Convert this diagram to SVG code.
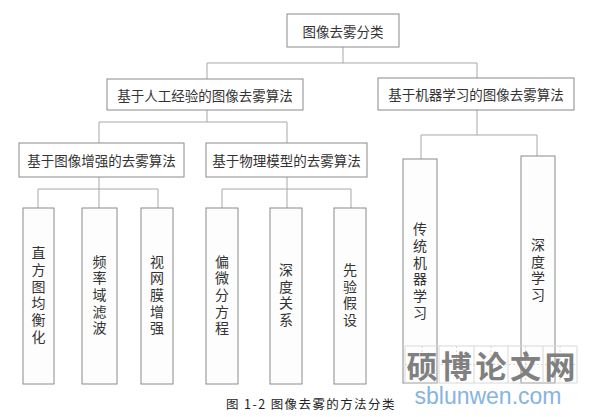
<svg xmlns="http://www.w3.org/2000/svg" width="594" height="417" viewBox="0 0 594 417">
<style>
.box{fill:#ffffff;stroke:#8a8a8a;stroke-width:1}
.leaf{fill:#fdfdfd;stroke:#8a8a8a;stroke-width:1}
.ln{fill:none;stroke:#a8a8a8;stroke-width:1}
.t{font-family:"Noto Sans CJK SC","Noto Sans",sans-serif;font-size:13.5px;fill:#333;text-anchor:middle;dominant-baseline:central}
.v{font-family:"Noto Sans CJK SC","Noto Sans",sans-serif;font-size:14px;fill:#333;text-anchor:middle;writing-mode:vertical-rl;letter-spacing:2.7px}
.cap{font-family:"Noto Sans CJK SC","Liberation Serif",sans-serif;font-size:12.5px;font-weight:normal;fill:#222;letter-spacing:1.4px}
.wm{font-family:"Noto Sans CJK SC",sans-serif;font-size:31px;font-weight:bold;fill:#808080;text-anchor:middle;dominant-baseline:central}
.wg{fill:none;stroke:#d8d8d8;stroke-width:1}
</style>
<rect width="594" height="417" fill="#ffffff"/>
<g id="connectors">
<path class="ln" d="M343,47V63M207,63H477M207,63V79M477,63V78"/>
<path class="ln" d="M207,110V122M99,122H287M99,122V143M287,122V143"/>
<path class="ln" d="M477,110V135M421,135H537M421,135V159M537,135V156"/>
<path class="ln" d="M99,177V189M38,189H158M38,189V208M99,189V208M158,189V208"/>
<path class="ln" d="M287,177V189M222,189H351M222,189V208M287,189V208M351,189V208"/>
</g>
<g id="root"><rect class="box" x="287" y="14" width="112" height="33"/><text class="t" x="343" y="30.5" font-size="14">图像去雾分类</text></g>
<g id="manual"><rect class="box" x="107" y="79" width="196" height="31"/><text class="t" x="205" y="94.5">基于人工经验的图像去雾算法</text></g>
<g id="ml"><rect class="box" x="378" y="78" width="196" height="32"/><text class="t" x="476" y="94">基于机器学习的图像去雾算法</text></g>
<g id="enhance"><rect class="box" x="19" y="143" width="165" height="34"/><text class="t" x="101.5" y="160">基于图像增强的去雾算法</text></g>
<g id="physics"><rect class="box" x="206" y="143" width="161" height="34"/><text class="t" x="286.5" y="160">基于物理模型的去雾算法</text></g>
<g id="leaf1"><rect class="leaf" x="23" y="208" width="31" height="176"/><text class="v" x="38.5" y="296">直方图均衡化</text></g>
<g id="leaf2"><rect class="leaf" x="82" y="208" width="35" height="176"/><text class="v" x="99.5" y="296">频率域滤波</text></g>
<g id="leaf3"><rect class="leaf" x="141" y="208" width="32" height="176"/><text class="v" x="157" y="296">视网膜增强</text></g>
<g id="leaf4"><rect class="leaf" x="206" y="208" width="32" height="176"/><text class="v" x="222" y="296">偏微分方程</text></g>
<g id="leaf5"><rect class="leaf" x="270" y="208" width="32" height="176"/><text class="v" x="286" y="296">深度关系</text></g>
<g id="leaf6"><rect class="leaf" x="334" y="208" width="32" height="176"/><text class="v" x="350" y="296">先验假设</text></g>
<g id="leaf7"><rect class="leaf" x="403" y="159" width="34" height="224"/><text class="v" x="420" y="272">传统机器学习</text></g>
<g id="leaf8"><rect class="leaf" x="521" y="156" width="34" height="227"/><text class="v" x="538" y="271" letter-spacing="2px">深度学习</text></g>
<g id="caption"><text class="cap" x="226" y="409">图 1-2  图像去雾的方法分类</text></g>
<g id="watermark">
<path class="wg" d="M405,346H577V383H405ZM439,346V383M474,346V383M508,346V383M543,346V383"/>
<path class="wg" stroke-dasharray="2,2" d="M405,364.5H577M422,346V383M456.5,346V383M491,346V383M525.5,346V383M560,346V383"/>
<text class="wm" x="422" y="364">硕</text>
<text class="wm" x="456.5" y="364">博</text>
<text class="wm" x="491" y="364">论</text>
<text class="wm" x="525.5" y="364">文</text>
<text class="wm" x="560" y="364">网</text>
<text x="488" y="404" font-family="Liberation Sans,sans-serif" font-size="23" fill="#86b4e2" text-anchor="middle">sblunwen.com</text>
</g>
</svg>
